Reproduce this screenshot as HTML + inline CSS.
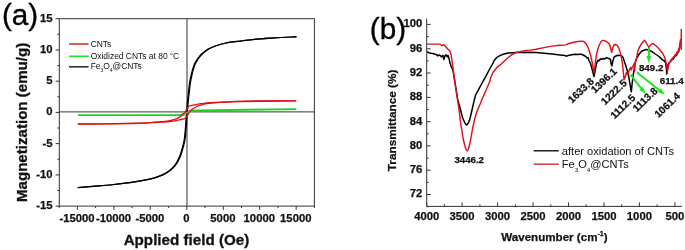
<!DOCTYPE html>
<html><head><meta charset="utf-8"><title>figure</title>
<style>
html,body{margin:0;padding:0;background:#fff;}
body{width:685px;height:250px;overflow:hidden;}
svg{display:block;font-family:"Liberation Sans",Arial,sans-serif;}
.tk text{font-size:11.3px;font-weight:bold;fill:#111;stroke:#111;stroke-width:0.25px;}
.pk text{font-size:10.2px;font-weight:bold;fill:#111;stroke:#111;stroke-width:0.25px;}
.lg text{fill:#111;}
.big{font-size:29.7px;fill:#000;stroke:#000;stroke-width:0.35px;}
.t15{font-size:15.2px;font-weight:bold;fill:#111;stroke:#111;stroke-width:0.3px;}
.t115{font-size:11.6px;font-weight:bold;fill:#111;stroke:#111;stroke-width:0.25px;}
</style></head><body>
<svg width="685" height="250" viewBox="0 0 685 250">
<rect width="685" height="250" fill="#fff"/>
<g stroke="#333" stroke-width="1" fill="none">
<rect x="59.3" y="18.7" width="255.1" height="187.4"/>
<line x1="59.3" y1="111.9" x2="314.4" y2="111.9"/>
<line x1="187.0" y1="18.7" x2="187.0" y2="206.1"/>
<line x1="55.599999999999994" y1="206.1" x2="59.3" y2="206.1"/>
<line x1="55.599999999999994" y1="174.9" x2="59.3" y2="174.9"/>
<line x1="55.599999999999994" y1="143.6" x2="59.3" y2="143.6"/>
<line x1="55.599999999999994" y1="112.4" x2="59.3" y2="112.4"/>
<line x1="55.599999999999994" y1="81.2" x2="59.3" y2="81.2"/>
<line x1="55.599999999999994" y1="50.0" x2="59.3" y2="50.0"/>
<line x1="55.599999999999994" y1="18.7" x2="59.3" y2="18.7"/>
<line x1="57.3" y1="190.5" x2="59.3" y2="190.5"/>
<line x1="57.3" y1="159.2" x2="59.3" y2="159.2"/>
<line x1="57.3" y1="128.0" x2="59.3" y2="128.0"/>
<line x1="57.3" y1="96.8" x2="59.3" y2="96.8"/>
<line x1="57.3" y1="65.6" x2="59.3" y2="65.6"/>
<line x1="57.3" y1="34.3" x2="59.3" y2="34.3"/>
<line x1="77.4" y1="206.1" x2="77.4" y2="209.79999999999998"/>
<line x1="113.9" y1="206.1" x2="113.9" y2="209.79999999999998"/>
<line x1="150.3" y1="206.1" x2="150.3" y2="209.79999999999998"/>
<line x1="186.8" y1="206.1" x2="186.8" y2="209.79999999999998"/>
<line x1="223.3" y1="206.1" x2="223.3" y2="209.79999999999998"/>
<line x1="259.7" y1="206.1" x2="259.7" y2="209.79999999999998"/>
<line x1="296.2" y1="206.1" x2="296.2" y2="209.79999999999998"/>
<line x1="59.2" y1="206.1" x2="59.2" y2="208.1"/>
<line x1="95.6" y1="206.1" x2="95.6" y2="208.1"/>
<line x1="132.1" y1="206.1" x2="132.1" y2="208.1"/>
<line x1="168.6" y1="206.1" x2="168.6" y2="208.1"/>
<line x1="205.0" y1="206.1" x2="205.0" y2="208.1"/>
<line x1="241.5" y1="206.1" x2="241.5" y2="208.1"/>
<line x1="278.0" y1="206.1" x2="278.0" y2="208.1"/>
<line x1="314.4" y1="206.1" x2="314.4" y2="208.1"/>
</g>
<g class="tk">
<text x="52.6" y="209.0" text-anchor="end">-15</text>
<text x="52.6" y="177.8" text-anchor="end">-10</text>
<text x="52.6" y="146.5" text-anchor="end">-5</text>
<text x="52.6" y="115.3" text-anchor="end">0</text>
<text x="52.6" y="84.1" text-anchor="end">5</text>
<text x="52.6" y="52.9" text-anchor="end">10</text>
<text x="52.6" y="21.6" text-anchor="end">15</text>
<text x="77.0" y="222.1" text-anchor="middle">-15000</text>
<text x="113.5" y="222.1" text-anchor="middle">-10000</text>
<text x="149.9" y="222.1" text-anchor="middle">-5000</text>
<text x="186.4" y="222.1" text-anchor="middle">0</text>
<text x="222.9" y="222.1" text-anchor="middle">5000</text>
<text x="259.3" y="222.1" text-anchor="middle">10000</text>
<text x="295.8" y="222.1" text-anchor="middle">15000</text>
</g>
<path d="M77.6,187.6 C82.9,187.2 100.9,185.8 109.6,185.0 C118.3,184.2 123.2,183.5 129.6,182.6 C136.0,181.7 143.4,180.3 148.1,179.3 C152.8,178.3 154.8,177.7 157.8,176.6 C160.7,175.5 163.4,174.3 165.8,172.9 C168.2,171.5 170.3,170.0 172.2,168.1 C174.1,166.2 175.7,164.0 177.0,161.7 C178.3,159.4 179.3,157.1 180.3,154.5 C181.2,151.9 182.0,149.0 182.7,146.4 C183.4,143.8 183.9,141.7 184.3,139.0 C184.7,136.3 184.9,133.5 185.2,130.5 C185.5,127.5 185.7,124.0 185.9,120.9 C186.1,117.9 186.4,115.1 186.6,112.2 C186.8,109.3 187.0,106.8 187.3,103.5 C187.6,100.2 188.1,95.8 188.5,92.3 C188.9,88.8 189.1,85.8 189.6,82.7 C190.1,79.7 190.7,77.0 191.4,74.0 C192.1,71.0 192.9,67.7 194.0,65.0 C195.1,62.3 196.8,59.9 198.1,58.0 C199.4,56.1 200.4,55.0 202.1,53.5 C203.8,52.0 205.8,50.4 208.0,49.1 C210.2,47.8 212.7,46.7 215.6,45.7 C218.5,44.7 221.6,43.8 225.6,43.0 C229.6,42.2 235.7,41.6 239.8,41.1 C243.9,40.6 246.6,40.2 250.0,39.8 C253.4,39.4 256.9,39.1 260.3,38.8 C263.7,38.5 267.1,38.3 270.5,38.1 C273.9,37.9 277.3,37.7 280.7,37.5 C284.1,37.3 288.4,37.1 290.9,37.0 C293.5,36.9 295.1,36.8 296.0,36.8" fill="none" stroke="#000" stroke-width="1.2" stroke-linejoin="round"/>
<path d="M78.4,187.6 C83.7,187.2 101.7,185.8 110.4,185.0 C119.1,184.2 124.0,183.5 130.4,182.6 C136.8,181.7 144.2,180.3 148.9,179.3 C153.6,178.3 155.7,177.7 158.6,176.6 C161.5,175.5 164.2,174.3 166.6,172.9 C169.0,171.5 171.1,170.0 173.0,168.1 C174.9,166.2 176.5,164.0 177.8,161.7 C179.2,159.4 180.2,157.1 181.1,154.5 C182.0,151.9 182.8,149.0 183.5,146.4 C184.2,143.8 184.7,141.7 185.1,139.0 C185.5,136.3 185.7,133.5 186.0,130.5 C186.3,127.5 186.5,124.0 186.7,120.9 C186.9,117.9 187.2,115.1 187.4,112.2 C187.6,109.3 187.8,106.8 188.1,103.5 C188.4,100.2 188.9,95.8 189.3,92.3 C189.7,88.8 189.9,85.8 190.4,82.7 C190.9,79.7 191.5,77.0 192.2,74.0 C192.9,71.0 193.7,67.7 194.8,65.0 C195.9,62.3 197.6,59.9 198.9,58.0 C200.2,56.1 201.2,55.0 202.9,53.5 C204.6,52.0 206.6,50.4 208.8,49.1 C211.1,47.8 213.5,46.7 216.4,45.7 C219.3,44.7 222.4,43.8 226.4,43.0 C230.4,42.2 236.5,41.6 240.6,41.1 C244.7,40.6 247.4,40.2 250.8,39.8 C254.2,39.4 257.7,39.1 261.1,38.8 C264.5,38.5 267.9,38.3 271.3,38.1 C274.7,37.9 278.1,37.7 281.5,37.5 C284.9,37.3 289.1,37.1 291.7,37.0 C294.2,36.9 295.9,36.8 296.8,36.8" fill="none" stroke="#000" stroke-width="1.2" stroke-linejoin="round"/>
<path d="M78.0,115.1 C94.2,115.1 157.8,115.2 175.0,115.1 C192.2,115.0 179.3,114.9 181.0,114.6 C182.7,114.3 184.0,113.7 185.0,113.4 C186.0,113.1 186.3,112.9 187.0,112.6 C187.7,112.3 188.0,111.9 189.0,111.6 C190.0,111.3 191.3,110.8 193.0,110.6 C194.7,110.4 181.8,110.5 199.0,110.3 C216.2,110.1 280.1,109.4 296.3,109.2" fill="none" stroke="#22d222" stroke-width="1.8"/>
<path d="M78.0,123.9 C86.7,123.9 118.0,123.8 130.0,123.6 C142.0,123.4 144.2,123.0 150.0,122.6 C155.8,122.2 161.3,121.8 165.0,121.4 C168.7,121.0 169.8,120.8 172.0,120.2 C174.2,119.6 176.5,118.6 178.2,117.8 C179.9,117.0 180.9,116.1 182.0,115.2 C183.1,114.3 183.7,113.8 184.8,112.4 C185.9,111.0 187.2,108.0 188.4,106.8 C189.6,105.6 190.4,105.8 192.0,105.4 C193.6,105.0 196.0,104.6 198.0,104.2 C200.0,103.8 201.9,103.5 204.0,103.3 C206.1,103.0 207.6,102.9 210.3,102.7 C213.0,102.5 215.1,102.5 220.0,102.3 C224.9,102.1 231.7,101.8 240.0,101.6 C248.3,101.4 260.6,101.2 270.0,101.0 C279.4,100.8 291.9,100.8 296.3,100.7" fill="none" stroke="#e01018" stroke-width="1.3"/>
<path d="M77.7,124.1 C82.1,124.1 94.6,124.0 104.0,123.8 C113.4,123.7 125.7,123.4 134.0,123.2 C142.3,123.0 149.1,122.7 154.0,122.5 C158.9,122.3 161.0,122.3 163.7,122.1 C166.4,121.9 167.9,121.8 170.0,121.5 C172.1,121.3 174.0,121.0 176.0,120.6 C178.0,120.2 180.4,119.8 182.0,119.4 C183.6,119.0 184.4,119.2 185.6,118.0 C186.8,116.8 188.1,113.8 189.2,112.4 C190.3,111.0 190.9,110.5 192.0,109.6 C193.1,108.7 194.1,107.8 195.8,107.0 C197.5,106.2 199.8,105.2 202.0,104.6 C204.2,104.0 205.3,103.8 209.0,103.4 C212.7,103.0 218.2,102.6 224.0,102.2 C229.8,101.8 232.0,101.4 244.0,101.2 C256.0,101.0 287.3,101.0 296.0,100.9" fill="none" stroke="#e01018" stroke-width="1.3"/>
<line x1="69" y1="44.0" x2="88.6" y2="44.0" stroke="#d23434" stroke-width="1.6"/>
<line x1="69" y1="56.3" x2="88.6" y2="56.3" stroke="#1ee61e" stroke-width="1.6"/>
<line x1="69" y1="66.8" x2="88.6" y2="66.8" stroke="#222" stroke-width="1.5"/>
<g class="lg" font-size="8.45">
<text x="90.7" y="46.6">CNTs</text>
<text x="90.7" y="58.6">Oxidized CNTs at 80 <tspan font-size="4.4" dy="-4.0" dx="0.4">o</tspan><tspan dy="4.0" dx="0.3">C</tspan></text>
<text x="90.7" y="69.1">Fe<tspan font-size="4.9" dy="3.2">3</tspan><tspan dy="-3.2">O</tspan><tspan font-size="4.9" dy="3.2">4</tspan><tspan dy="-3.2">@CNTs</tspan></text>
</g>
<text class="big" x="1.9" y="25.3">(a)</text>
<text class="t15" x="186.5" y="244.6" text-anchor="middle">Applied field (Oe)</text>
<text class="t15" style="font-size:15.1px" transform="translate(27.1,122.4) rotate(-90)" text-anchor="middle">Magnetization (emu/g)</text>
<g stroke="#333" stroke-width="1" fill="none">
<path d="M426.7,18.6 V206.4 H682.0"/>
<line x1="426.7" y1="194.5" x2="430.7" y2="194.5"/>
<line x1="426.7" y1="170.2" x2="430.7" y2="170.2"/>
<line x1="426.7" y1="145.9" x2="430.7" y2="145.9"/>
<line x1="426.7" y1="121.7" x2="430.7" y2="121.7"/>
<line x1="426.7" y1="97.4" x2="430.7" y2="97.4"/>
<line x1="426.7" y1="73.0" x2="430.7" y2="73.0"/>
<line x1="426.7" y1="48.8" x2="430.7" y2="48.8"/>
<line x1="426.7" y1="24.4" x2="430.7" y2="24.4"/>
<line x1="426.7" y1="206.7" x2="428.7" y2="206.7"/>
<line x1="426.7" y1="182.4" x2="428.7" y2="182.4"/>
<line x1="426.7" y1="158.1" x2="428.7" y2="158.1"/>
<line x1="426.7" y1="133.8" x2="428.7" y2="133.8"/>
<line x1="426.7" y1="109.5" x2="428.7" y2="109.5"/>
<line x1="426.7" y1="85.2" x2="428.7" y2="85.2"/>
<line x1="426.7" y1="60.9" x2="428.7" y2="60.9"/>
<line x1="426.7" y1="36.6" x2="428.7" y2="36.6"/>
<line x1="674.9" y1="206.4" x2="674.9" y2="202.4"/>
<line x1="639.4" y1="206.4" x2="639.4" y2="202.4"/>
<line x1="604.0" y1="206.4" x2="604.0" y2="202.4"/>
<line x1="568.5" y1="206.4" x2="568.5" y2="202.4"/>
<line x1="533.0" y1="206.4" x2="533.0" y2="202.4"/>
<line x1="497.6" y1="206.4" x2="497.6" y2="202.4"/>
<line x1="462.1" y1="206.4" x2="462.1" y2="202.4"/>
<line x1="426.7" y1="206.4" x2="426.7" y2="202.4"/>
<line x1="657.1" y1="206.4" x2="657.1" y2="204.4"/>
<line x1="621.7" y1="206.4" x2="621.7" y2="204.4"/>
<line x1="586.2" y1="206.4" x2="586.2" y2="204.4"/>
<line x1="550.8" y1="206.4" x2="550.8" y2="204.4"/>
<line x1="515.3" y1="206.4" x2="515.3" y2="204.4"/>
<line x1="479.9" y1="206.4" x2="479.9" y2="204.4"/>
<line x1="444.4" y1="206.4" x2="444.4" y2="204.4"/>
</g>
<g class="tk">
<text x="422.4" y="197.4" text-anchor="end">72</text>
<text x="422.4" y="173.2" text-anchor="end">76</text>
<text x="422.4" y="148.8" text-anchor="end">80</text>
<text x="422.4" y="124.6" text-anchor="end">84</text>
<text x="422.4" y="100.3" text-anchor="end">88</text>
<text x="422.4" y="76.0" text-anchor="end">92</text>
<text x="422.4" y="51.6" text-anchor="end">96</text>
<text x="422.4" y="27.3" text-anchor="end">100</text>
<text x="674.9" y="219.5" text-anchor="middle">500</text>
<text x="639.4" y="219.5" text-anchor="middle">1000</text>
<text x="604.0" y="219.5" text-anchor="middle">1500</text>
<text x="568.5" y="219.5" text-anchor="middle">2000</text>
<text x="533.0" y="219.5" text-anchor="middle">2500</text>
<text x="497.6" y="219.5" text-anchor="middle">3000</text>
<text x="462.1" y="219.5" text-anchor="middle">3500</text>
<text x="426.7" y="219.5" text-anchor="middle">4000</text>
</g>
<path d="M427.0,51.8 L429.0,52.7 L431.1,53.3 L433.0,53.5 L435.2,54.3 L436.5,54.6 L437.8,55.9 L439.3,54.9 L440.3,55.6 L441.3,56.9 L442.9,55.4 L443.9,59.5 L444.9,55.9 L445.9,54.9 L447.3,56.9 L448.0,55.4 L449.0,58.4 L450.0,63.0 L451.2,66.5 L453.0,70.5 L454.9,82.0 L457.8,100.0 L459.4,105.5 L462.6,117.7 L464.5,122.0 L465.6,124.2 L466.6,124.9 L467.6,124.2 L468.6,122.3 L469.8,119.3 L472.0,110.0 L473.7,102.4 L475.6,95.0 L478.8,89.2 L481.8,83.5 L485.0,77.8 L488.6,71.0 L492.0,65.0 L494.2,60.5 L497.0,57.3 L500.3,55.4 L504.0,54.0 L508.3,53.0 L516.4,52.5 L530.0,52.2 L536.0,52.5 L552.1,54.1 L560.0,55.0 L565.0,55.6 L566.6,56.2 L568.0,55.5 L574.6,54.3 L578.0,54.6 L581.0,54.1 L583.0,55.0 L585.8,56.5 L587.0,58.0 L588.0,57.6 L589.0,60.5 L590.5,63.5 L592.3,70.0 L594.0,76.5 L595.2,70.0 L596.7,62.8 L598.0,60.2 L599.0,60.8 L600.7,58.8 L602.0,59.5 L603.0,58.4 L604.5,59.0 L606.7,57.6 L608.0,58.4 L609.5,58.4 L610.5,60.0 L611.2,64.0 L611.9,65.8 L612.8,61.0 L614.3,56.8 L616.0,56.0 L618.0,55.2 L621.6,55.6 L623.0,57.5 L624.8,62.8 L626.5,68.0 L628.0,73.0 L629.5,81.0 L630.6,88.0 L631.3,91.8 L632.1,84.0 L633.1,76.1 L634.2,68.5 L635.2,62.8 L637.0,57.5 L639.2,54.0 L642.0,51.0 L645.7,49.6 L648.0,49.8 L652.0,51.6 L655.3,54.0 L659.0,56.5 L662.2,59.6 L664.5,61.0 L665.6,63.0 L666.3,68.0 L666.8,73.9 L667.5,67.0 L668.3,64.0 L669.7,62.3 L671.0,61.0 L672.0,59.0 L673.0,59.5 L675.0,56.0 L676.5,55.5 L677.5,52.5 L678.5,52.0 L679.3,48.0 L680.0,47.5" fill="none" stroke="#000" stroke-width="1.5" stroke-linejoin="round"/>
<path d="M427.0,44.1 L435.0,44.1 L439.3,44.1 L440.8,44.6 L441.9,45.7 L443.9,44.7 L446.0,47.0 L448.0,49.2 L450.0,51.3 L451.0,54.5 L452.0,60.5 L453.3,70.0 L454.9,82.0 L456.0,90.0 L457.6,100.0 L459.2,111.0 L460.6,122.5 L463.4,140.0 L465.0,146.3 L466.0,149.6 L467.1,150.9 L468.2,149.6 L469.2,146.3 L470.6,140.0 L472.5,129.0 L474.6,119.3 L476.5,113.0 L478.4,108.0 L480.4,103.5 L482.9,97.3 L486.0,90.2 L488.2,85.0 L489.8,81.5 L490.6,78.0 L493.1,72.3 L497.2,67.2 L501.3,64.1 L505.4,60.0 L508.5,57.3 L512.0,54.6 L516.4,52.4 L520.0,51.6 L524.4,50.6 L530.0,50.1 L536.0,49.3 L544.0,47.6 L552.1,46.1 L560.0,45.3 L566.0,44.9 L567.0,44.3 L570.0,43.3 L574.6,42.0 L578.0,41.5 L582.6,41.2 L584.5,42.0 L586.6,44.5 L588.5,48.5 L590.7,55.7 L592.3,63.0 L594.0,72.5 L595.2,64.0 L596.3,55.7 L597.8,49.0 L599.5,44.5 L601.0,41.5 L602.7,40.4 L605.0,40.8 L608.3,42.8 L609.8,45.0 L610.8,49.0 L611.7,52.4 L612.7,48.0 L613.9,44.8 L615.5,44.5 L617.2,45.3 L618.5,47.5 L619.8,50.9 L621.4,57.0 L622.5,64.0 L623.4,73.0 L624.0,79.7 L625.0,77.5 L626.5,72.2 L627.5,74.5 L628.3,73.0 L629.5,69.5 L630.6,67.5 L631.3,70.0 L632.0,67.5 L633.2,65.5 L634.2,63.5 L634.6,71.5 L635.0,63.5 L636.4,59.5 L637.2,54.5 L638.0,50.5 L639.4,47.4 L640.8,44.8 L643.0,42.0 L644.5,40.2 L646.0,42.5 L647.5,45.0 L648.9,47.3 L650.5,45.0 L652.0,43.8 L653.3,43.8 L655.0,45.0 L657.0,46.8 L660.0,50.0 L662.5,53.0 L664.3,56.5 L665.6,60.5 L666.6,66.0 L667.6,70.6 L668.5,66.0 L669.4,62.5 L670.3,61.8 L671.2,59.5 L672.2,59.8 L673.2,57.0 L674.4,56.6 L675.2,54.6 L676.2,54.6 L677.0,52.0 L678.0,52.4 L678.6,49.0 L679.2,50.5 L679.8,43.5 L680.5,39.5 L681.2,49.3 L681.3,29.0" fill="none" stroke="#e01018" stroke-width="1.45" stroke-linejoin="round"/>
<line x1="648.9" y1="48.0" x2="648.9" y2="56.0" stroke="#1ee61e" stroke-width="2.0"/>
<polygon points="648.9,63.2 646.5,56.0 651.3,56.0" fill="#1ee61e"/>
<line x1="630.4" y1="74.6" x2="641.2" y2="88.3" stroke="#1ee61e" stroke-width="2.0"/>
<polygon points="645.7,93.9 639.3,89.7 643.1,86.8" fill="#1ee61e"/>
<line x1="636.8" y1="72.2" x2="659.3" y2="90.2" stroke="#1ee61e" stroke-width="2.0"/>
<polygon points="664.9,94.7 657.8,92.1 660.8,88.3" fill="#1ee61e"/>
<g class="pk">
<text x="469.2" y="162.9" text-anchor="middle" style="font-size:9.7px">3446.2</text>
<text x="651.2" y="70.8" text-anchor="middle" style="font-size:9.8px">849.2</text>
<text x="671.7" y="83.5" text-anchor="middle" style="font-size:9.8px">611.4</text>
<text transform="translate(594.5,82.1) rotate(-44)" text-anchor="end">1633.8</text>
<text transform="translate(617.5,72.2) rotate(-44)" text-anchor="end">1396.1</text>
<text transform="translate(627.5,83.9) rotate(-44)" text-anchor="end">1222.5</text>
<text transform="translate(636.0,98.6) rotate(-44)" text-anchor="end">1112.5</text>
<text transform="translate(658.3,91.7) rotate(-44)" text-anchor="end">1113.8</text>
<text transform="translate(680.9,96.7) rotate(-44)" text-anchor="end">1061.4</text>
</g>
<line x1="533.6" y1="150.8" x2="558.8" y2="150.8" stroke="#111" stroke-width="1.4"/>
<line x1="533.6" y1="164.2" x2="558.8" y2="164.2" stroke="#cc3030" stroke-width="1.4"/>
<g class="lg" font-size="11.1">
<text x="561.8" y="154.5">after oxidation of CNTs</text>
<text x="561.8" y="167.9">Fe<tspan font-size="6.2" dy="3.9">3</tspan><tspan dy="-3.9">O</tspan><tspan font-size="6.2" dy="3.9">4</tspan><tspan dy="-3.9">@CNTs</tspan></text>
</g>
<text class="big" x="369.8" y="38.9">(b)</text>
<text class="t115" x="554.4" y="241.2" text-anchor="middle">Wavenumber (cm<tspan font-size="7" dy="-5">-1</tspan><tspan dy="5">)</tspan></text>
<text class="t115" style="font-size:11.8px" transform="translate(395.6,120.4) rotate(-90)" text-anchor="middle">Transmittance (%)</text>
</svg>
</body></html>
